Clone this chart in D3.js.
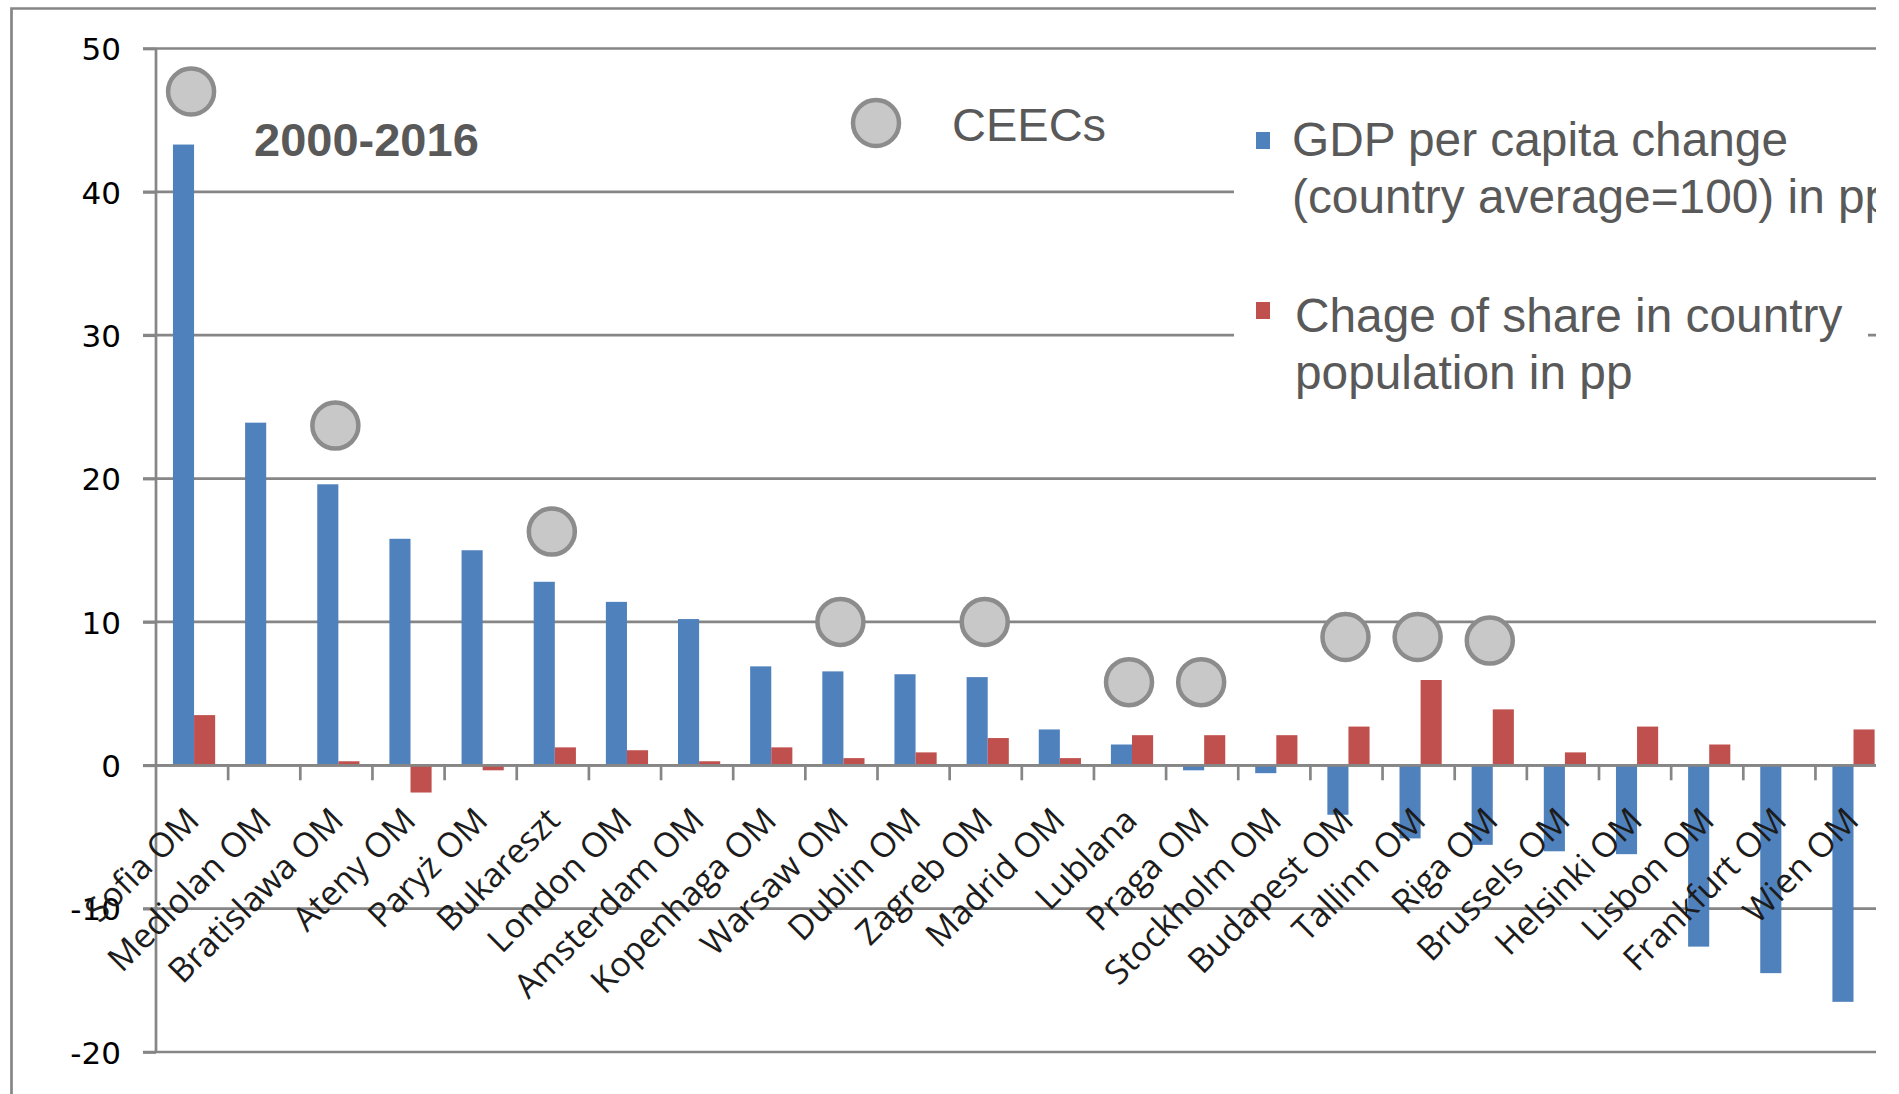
<!DOCTYPE html>
<html>
<head>
<meta charset="utf-8">
<script src="https://cdn.jsdelivr.net/npm/d3@7"></script>
<style>
  html, body { margin: 0; padding: 0; background: #ffffff; }
  svg { display: block; }
</style>
</head>
<body>
<script>
// Metropolitan areas, 2000-2016
const categories = ["Sofia OM", "Mediolan OM", "Bratislawa OM", "Ateny OM", "Paryż OM", "Bukareszt",
  "London OM", "Amsterdam OM", "Kopenhaga OM", "Warsaw OM", "Dublin OM", "Zagreb OM", "Madrid OM",
  "Lublana", "Praga OM", "Stockholm OM", "Budapest OM", "Tallinn OM", "Riga OM", "Brussels OM",
  "Helsinki OM", "Lisbon OM", "Frankfurt OM", "Wien OM"];

// GDP per capita change (country average = 100), pp
const gdpChange = [43.3, 23.9, 19.6, 15.8, 15.0, 12.8, 11.4, 10.2, 6.9, 6.55, 6.35, 6.15, 2.5,
  1.45, -0.35, -0.55, -3.45, -5.1, -5.55, -6.0, -6.2, -12.65, -14.5, -16.5];

// Change of share in country population, pp
const popShareChange = [3.5, 0, 0.28, -1.9, -0.35, 1.25, 1.05, 0.28, 1.25, 0.5, 0.9, 1.9, 0.5,
  2.1, 2.1, 2.1, 2.7, 5.95, 3.9, 0.9, 2.7, 1.45, 0, 2.5];

// CEEC markers
const ceecCities = ["Sofia OM", "Bratislawa OM", "Bukareszt", "Warsaw OM", "Zagreb OM", "Lublana",
  "Praga OM", "Budapest OM", "Tallinn OM", "Riga OM"];
const ceecLevels = [47.0, 23.7, 16.3, 10.0, 10.0, 5.8, 5.8, 8.95, 8.95, 8.7];

const yTicks = [-20, -10, 0, 10, 20, 30, 40, 50];
const seriesNames = ["GDP per capita change\n(country average=100) in pp",
  "Chage of share in country\npopulation in pp"];
const ceecLabel = "CEECs";
const periodLabel = "2000-2016";

const W = 1899, H = 1094;
const blue = "#4F81BD", red = "#C0504D", grid = "#868686", legendText = "#595959";

const svg = d3.select("body").append("svg").attr("width", W).attr("height", H);
svg.append("defs").append("clipPath").attr("id", "view")
  .append("rect").attr("x", 0).attr("y", 0).attr("width", 1876).attr("height", H);

const root = svg.append("g").attr("clip-path", "url(#view)");

const axisX = 156, plotRight = 156 + 72.15 * categories.length;
const x = d3.scaleBand().domain(categories).range([axisX, plotRight]).padding(0);
const bw = x.bandwidth();
const inner = d3.scaleBand().domain(["gdp", "pop"]).range([bw * 0.235, bw * 0.82]).padding(0);
const y = d3.scaleLinear().domain([-20, 50]).range([1052, 48.5]);

// outer frame
root.append("path")
  .attr("d", `M11.5,${H} V8.5 H${W}`)
  .attr("fill", "none").attr("stroke", grid).attr("stroke-width", 2.7);

// horizontal gridlines
root.append("g").selectAll("line").data(yTicks).join("line")
  .attr("x1", axisX - 13).attr("x2", plotRight)
  .attr("y1", d => y(d)).attr("y2", d => y(d))
  .attr("stroke", grid).attr("stroke-width", 2.7);

// category tick marks below the zero line
root.append("g").selectAll("line").data(categories.slice(1)).join("line")
  .attr("x1", d => x(d)).attr("x2", d => x(d))
  .attr("y1", y(0)).attr("y2", y(0) + 15)
  .attr("stroke", grid).attr("stroke-width", 2.7);

// bars
const rows = categories.map((c, i) => ({ c, gdp: gdpChange[i], pop: popShareChange[i] }));
const barG = root.append("g");
[["gdp", blue], ["pop", red]].forEach(([key, col]) => {
  barG.append("g").selectAll("rect").data(rows.filter(r => r[key] !== 0)).join("rect")
    .attr("x", d => x(d.c) + inner(key))
    .attr("width", inner.bandwidth())
    .attr("y", d => y(Math.max(0, d[key])))
    .attr("height", d => Math.abs(y(d[key]) - y(0)))
    .attr("fill", col);
});

// zero line drawn over bars
root.append("line").attr("x1", axisX).attr("x2", plotRight)
  .attr("y1", y(0)).attr("y2", y(0)).attr("stroke", grid).attr("stroke-width", 2.7);

// y axis with labels
const yAxis = root.append("g").attr("transform", `translate(${axisX},0)`)
  .call(d3.axisLeft(y).tickValues(yTicks).tickSize(13).tickPadding(22).tickFormat(d => String(d)));
yAxis.select(".domain").remove();
yAxis.selectAll(".tick line").attr("stroke", grid).attr("stroke-width", 2.7);
root.append("line").attr("x1", axisX).attr("x2", axisX)
  .attr("y1", y(50)).attr("y2", y(-20)).attr("stroke", grid).attr("stroke-width", 2.7);

// category labels
root.append("g").selectAll("text").data(categories).join("text")
  .attr("transform", d => `translate(${x(d) + bw / 2 + 9},${y(0) + 57}) rotate(-45)`)
  .attr("text-anchor", "end")
  .attr("font-family", "'Open Sans', sans-serif").attr("font-size", 34)
  .attr("fill", "#1c1c1c")
  .text(d => d);

yAxis.selectAll(".tick text")
  .attr("font-family", "'DejaVu Sans', sans-serif").attr("font-size", 31)
  .attr("fill", "#000").attr("dy", "0.36em");

// CEEC markers
root.append("g").selectAll("circle").data(ceecCities.map((c, i) => ({ c, v: ceecLevels[i] })))
  .join("circle")
  .attr("cx", d => x(d.c) + bw / 2 - 1)
  .attr("cy", d => y(d.v))
  .attr("r", 23)
  .attr("fill", "#C8C8C8").attr("stroke", "#8C8C8C").attr("stroke-width", 4.5);

// period title
root.append("text").attr("x", 254).attr("y", 156)
  .attr("font-family", "'Liberation Sans', Arial, sans-serif").attr("font-weight", "bold")
  .attr("font-size", 47).attr("fill", legendText).text(periodLabel);

// CEEC legend entry
root.append("circle").attr("cx", 876).attr("cy", 123).attr("r", 23)
  .attr("fill", "#C8C8C8").attr("stroke", "#8C8C8C").attr("stroke-width", 4.5);
root.append("text").attr("x", 952).attr("y", 141)
  .attr("font-family", "'Liberation Sans', Arial, sans-serif")
  .attr("font-size", 47).attr("fill", legendText).text(ceecLabel);

// series legend
const legend = root.append("g");
legend.append("rect").attr("x", 1234).attr("y", 70).attr("width", 634).attr("height", 370)
  .attr("fill", "#fff");
const legendItems = [
  { name: seriesNames[0], color: blue, my: 132, ty: 156, tx: 1292 },
  { name: seriesNames[1], color: red, my: 302, ty: 332, tx: 1295 }
];
legendItems.forEach(it => {
  legend.append("rect").attr("x", 1256).attr("y", it.my).attr("width", 14).attr("height", 17)
    .attr("fill", it.color);
  const t = legend.append("text")
    .attr("font-family", "'Liberation Sans', Arial, sans-serif")
    .attr("font-size", 47.8).attr("fill", legendText);
  it.name.split("\n").forEach((line, i) => {
    t.append("tspan").attr("x", it.tx).attr("y", it.ty + i * 57).text(line);
  });
});
</script>
</body>
</html>
